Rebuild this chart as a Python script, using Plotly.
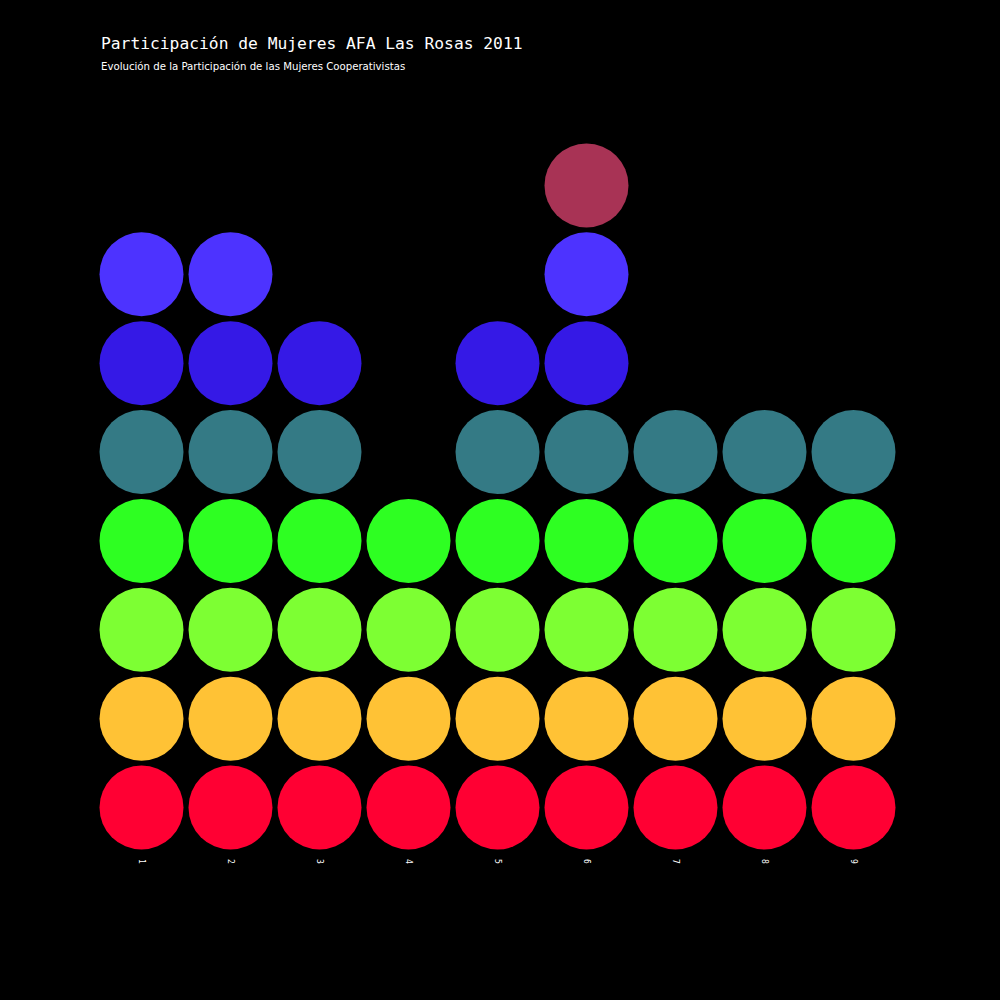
import plotly.graph_objects as go

columns = ["1", "2", "3", "4", "5", "6", "7", "8", "9"]
# number of stacked circles in each column
counts = [7, 7, 6, 4, 6, 8, 5, 5, 5]
layer_colors = ["#FF0033", "#FFC235", "#7DFF33", "#2EFF22", "#347A85",
                "#3519E6", "#4D33FF", "#A83355"]
title = "Participación de Mujeres AFA Las Rosas 2011"
subtitle = "Evolución de la Participación de las Mujeres Cooperativistas"

fig = go.Figure()
for level, color in enumerate(layer_colors, start=1):
    xs = [c for c, n in zip(columns, counts) if n >= level]
    ys = [level] * len(xs)
    fig.add_trace(go.Scatter(
        x=xs, y=ys, mode="markers",
        marker=dict(size=84, color=color, line=dict(width=0)),
        showlegend=False, hoverinfo="x+y",
    ))

fig.update_layout(
    width=1000, height=1000,
    paper_bgcolor="#000000", plot_bgcolor="#000000",
    margin=dict(l=97, r=102, t=140.5, b=147.5),
    xaxis=dict(type="category", categoryorder="array", categoryarray=columns,
               range=[-0.5, 8.5], showgrid=False, zeroline=False, showline=False,
               tickangle=90, ticks="", ticklen=0, ticklabelstandoff=6,
               tickfont=dict(family="DejaVu Sans Mono", size=8, color="#ffffff")),
    yaxis=dict(range=[0.5, 8.5], showgrid=False, zeroline=False, showline=False,
               showticklabels=False),
    annotations=[
        dict(text=title, xref="paper", yref="paper", x=0.002, y=(852.5 - 43) / 712,
             xanchor="left", yanchor="middle", showarrow=False,
             font=dict(family="DejaVu Sans Mono", size=16.3, color="#ffffff")),
        dict(text=subtitle, xref="paper", yref="paper", x=0.002, y=(852.5 - 66) / 712,
             xanchor="left", yanchor="middle", showarrow=False,
             font=dict(family="DejaVu Sans Condensed", size=11.3, color="#ffffff")),
    ],
)

fig.write_html("out.html")
